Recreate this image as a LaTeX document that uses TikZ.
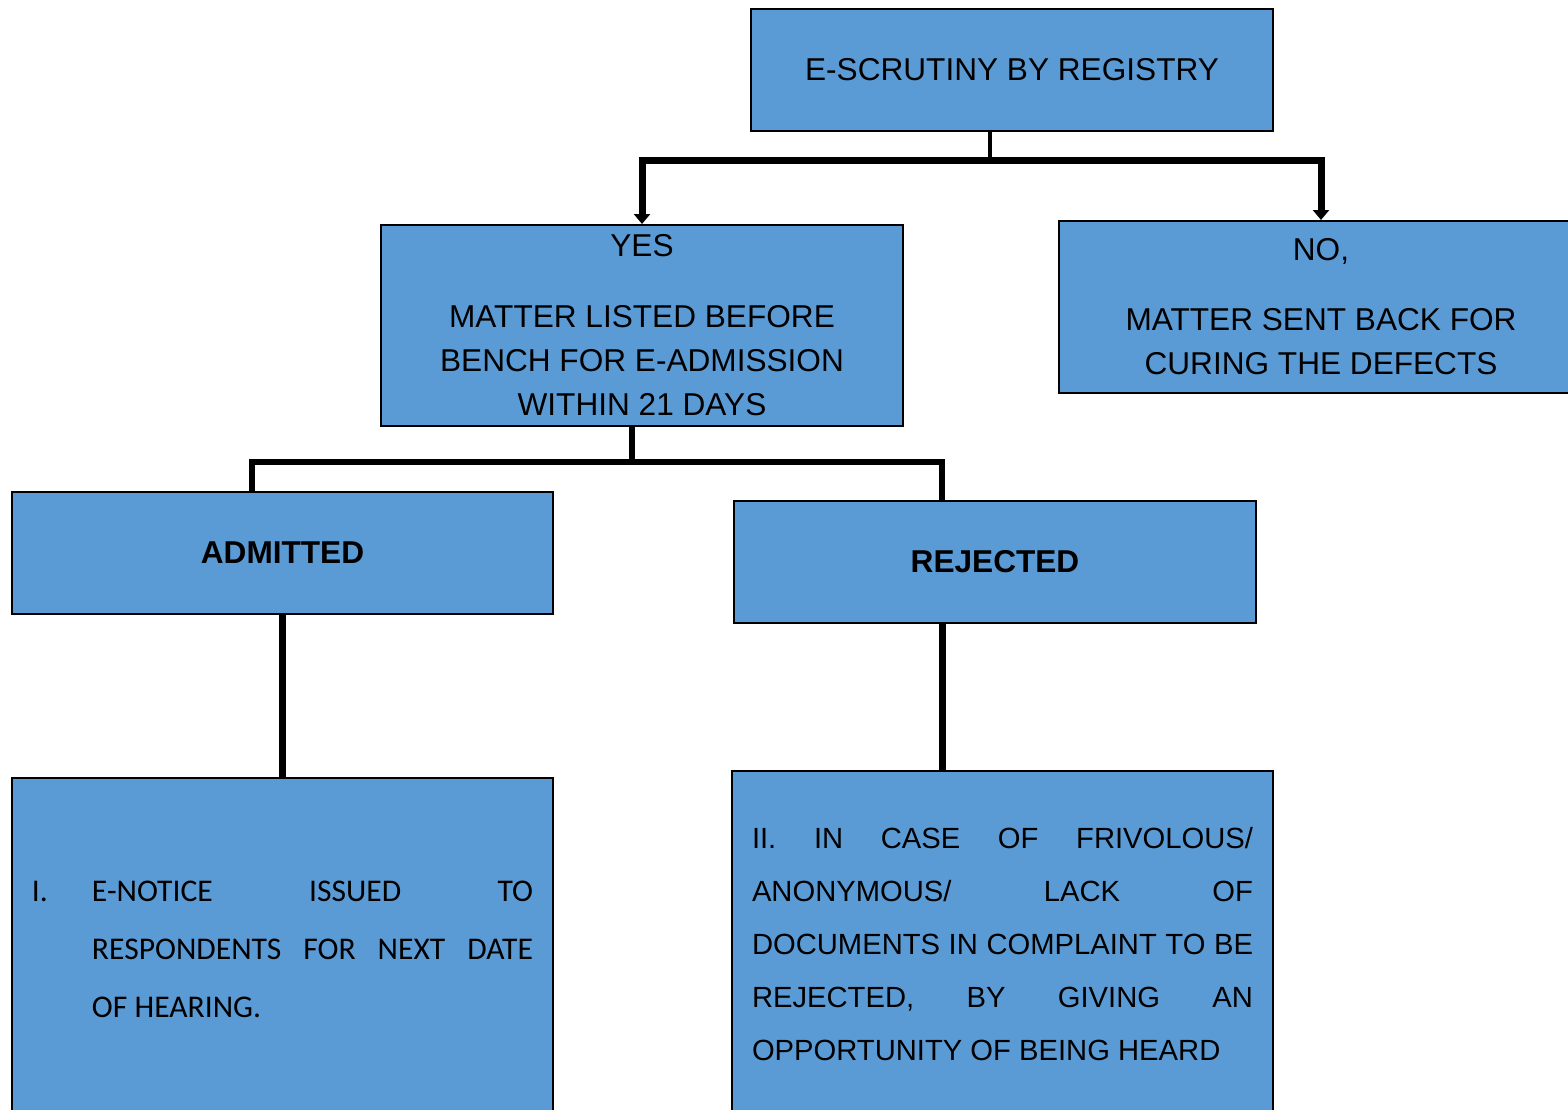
\documentclass[tikz,border=0pt]{standalone}
\usepackage{fontspec}
\setmainfont{Liberation Sans}
\newfontfamily\calibrifont{Carlito}
\usepackage{tikz}
\usetikzlibrary{positioning,arrows.meta,calc}
\definecolor{boxblue}{RGB}{91,155,213}
\tikzset{
 flow/.style={x=0.5pt,y=-0.5pt,line join=miter},
 block/.style={rectangle,draw,line width=1pt,fill=boxblue,inner sep=2pt,align=center,
   font=\fontsize{15.8}{22}\selectfont},
 wide block/.style={block,minimum width=261pt,minimum height=61pt},
 bold block/.style={font=\fontsize{15.8}{22}\selectfont\bfseries},
 note block/.style={block,minimum width=270.5pt,text width=250.5pt,inner xsep=10pt,align=justify},
 stem/.style={line width=2pt},
 bar/.style={line width=3.5pt},
 link/.style={line width=3pt},
 down/.style={bar,-{Triangle[width=8pt,length=5pt]}}
}
\begin{document}
\begin{tikzpicture}[flow]
      \useasboundingbox (0,0) rectangle (1568,1109);
      \node[wide block] (scrutiny) at (1012,70) {E-SCRUTINY BY REGISTRY};
      \node[wide block,minimum height=100.5pt] (yes) at (642,325.5)
        {YES\\[13.5pt]MATTER LISTED BEFORE\\BENCH FOR E-ADMISSION\\WITHIN 21 DAYS};
      \node[wide block,minimum width=262pt,minimum height=86pt] (no) at (1321,307)
        {NO,\\[13pt]MATTER SENT BACK FOR\\CURING THE DEFECTS};
      \node[block,bold block,minimum width=270.5pt,minimum height=61pt] (admitted) at (282.5,553) {ADMITTED};
      \node[wide block,bold block] (rejected) at (995,562) {REJECTED};
      \node[note block,minimum height=171pt,font=\calibrifont\fontsize{15.8}{29}\selectfont] (notice) at (282.5,949)
        {\leftskip=30pt\noindent\llap{\makebox[30pt][l]{I.}}E-NOTICE ISSUED TO\linebreak
         RESPONDENTS FOR NEXT DATE\linebreak OF HEARING.\par};
      \node[note block,minimum height=173pt,font=\fontsize{14.6}{26.5}\selectfont] (complaint) at (1002.5,944)
        {II. IN CASE OF FRIVOLOUS/\linebreak ANONYMOUS/ LACK OF\linebreak
         DOCUMENTS IN COMPLAINT TO BE\linebreak REJECTED, BY GIVING AN\linebreak
         OPPORTUNITY OF BEING HEARD};
      \coordinate (split) at (990,160);
      \coordinate (fork) at (632,462);
      \coordinate (leftdrop) at (252,462);
      \coordinate (rightdrop) at (942,462);
      \draw[stem] (scrutiny.south -| split) -- (split);
      \draw[down] (split) -| (yes.north);
      \draw[down] (split) -| (no.north);
      \draw[link] (yes.south -| fork) -- (fork);
      \draw[link] (admitted.north -| leftdrop) |- (fork) -| (rejected.north -| rightdrop);
      \draw[bar] (admitted) -- (notice);
      \draw[bar] (rejected.south -| rightdrop) -- (complaint.north -| rightdrop);
\end{tikzpicture}
\end{document}
